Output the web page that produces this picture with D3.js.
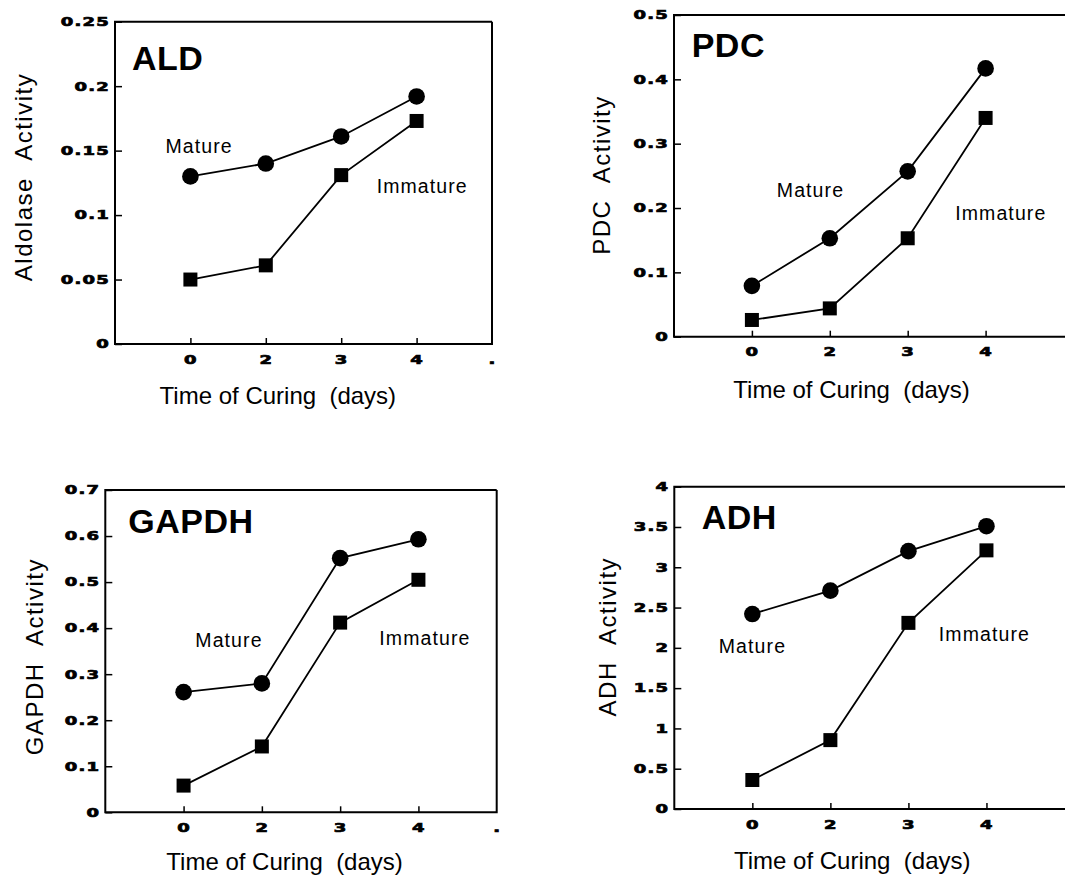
<!DOCTYPE html>
<html>
<head>
<meta charset="utf-8">
<script src="https://cdn.jsdelivr.net/npm/d3@7"></script>
<style>
  body { margin: 0; background: #fff; }
  text { fill: #000; }
</style>
</head>
<body>
<div id="chart"></div>
<script>
// ---- data ----
var days = ["0", "2", "3", "4"];
var endLabel = ".";

var aldMature   = [0.13, 0.14, 0.161, 0.192];
var aldImmature = [0.05, 0.061, 0.131, 0.173];
var aldTicks = [0, 0.05, 0.1, 0.15, 0.2, 0.25];
var aldTickLabels = ["0", "0.05", "0.1", "0.15", "0.2", "0.25"];

var pdcMature   = [0.079, 0.153, 0.257, 0.417];
var pdcImmature = [0.026, 0.044, 0.153, 0.34];
var pdcTicks = [0, 0.1, 0.2, 0.3, 0.4, 0.5];
var pdcTickLabels = ["0", "0.1", "0.2", "0.3", "0.4", "0.5"];

var gapdhMature   = [0.261, 0.28, 0.552, 0.593];
var gapdhImmature = [0.058, 0.143, 0.412, 0.505];
var gapdhTicks = [0, 0.1, 0.2, 0.3, 0.4, 0.5, 0.6, 0.7];
var gapdhTickLabels = ["0", "0.1", "0.2", "0.3", "0.4", "0.5", "0.6", "0.7"];

var adhMature   = [2.42, 2.71, 3.2, 3.51];
var adhImmature = [0.36, 0.855, 2.31, 3.21];
var adhTicks = [0, 0.5, 1, 1.5, 2, 2.5, 3, 3.5, 4];
var adhTickLabels = ["0", "0.5", "1", "1.5", "2", "2.5", "3", "3.5", "4"];

var xTitle = "Time of Curing\u00a0\u00a0(days)";

var width = 1065, height = 878;

var svg = d3.select("#chart")
            .append("svg")
            .attr("width", width)
            .attr("height", height)
            .style("display", "block");

svg.append("rect").attr("width", width).attr("height", height).attr("fill", "#fff");

// panel layout
var panels = [
  { name: "ALD", yTitle: "Aldolase\u00a0\u00a0Activity", mature: aldMature, immature: aldImmature,
    ticks: aldTicks, tickLabels: aldTickLabels,
    left: 115, right: 492, top: 21.7, bottom: 344, openRight: false,
    titleDx: 17, titleDy: 48, yTitleDx: -83, yTitleCy: 177,
    matureAt: [-0.33, 0.148], immatureAt: [2.47, 0.117], xTitleAt: 1.16, xTitleDy: 60 },
  { name: "PDC", yTitle: "PDC\u00a0\u00a0Activity", mature: pdcMature, immature: pdcImmature,
    ticks: pdcTicks, tickLabels: pdcTickLabels,
    left: 674, right: 1063.5, top: 15, bottom: 336.7, openRight: true,
    titleDx: 17.7, titleDy: 42, yTitleDx: -64, yTitleCy: 175,
    matureAt: [0.32, 0.217], immatureAt: [2.61, 0.181], xTitleAt: 1.28, xTitleDy: 61.7 },
  { name: "GAPDH", yTitle: "GAPDH\u00a0\u00a0Activity", mature: gapdhMature, immature: gapdhImmature,
    ticks: gapdhTicks, tickLabels: gapdhTickLabels,
    left: 105.3, right: 496.7, top: 490, bottom: 812.3, openRight: false,
    titleDx: 23, titleDy: 42.7, yTitleDx: -62.3, yTitleCy: 656.7,
    matureAt: [0.15, 0.36], immatureAt: [2.5, 0.364], xTitleAt: 1.29, xTitleDy: 58 },
  { name: "ADH", yTitle: "ADH\u00a0\u00a0Activity", mature: adhMature, immature: adhImmature,
    ticks: adhTicks, tickLabels: adhTickLabels,
    left: 674.3, right: 1064.5, top: 486.7, bottom: 809, openRight: true,
    titleDx: 27.4, titleDy: 42.3, yTitleDx: -58.3, yTitleCy: 636.7,
    matureAt: [-0.43, 1.93], immatureAt: [2.39, 2.09], xTitleAt: 1.28, xTitleDy: 59.7 }
];

var tickScale = 1.5; // the tick digits are very wide

function styleTickText(sel){
  sel.style("font-family", "'DejaVu Sans', sans-serif")
     .style("font-weight", "bold")
     .style("font-size", "12px")
     .style("letter-spacing", "0.8px")
     .attr("stroke", "#000")
     .attr("stroke-width", 0.7);
}

panels.forEach(function(p){

  var g = svg.append("g").attr("class", "panel-" + p.name);

  var x = d3.scaleLinear().domain([-1, 4]).range([p.left, p.right]);
  var y = d3.scaleLinear().domain([0, d3.max(p.ticks)]).range([p.bottom, p.top]);

  // frame
  var fr = p.openRight ? width + 10 : p.right;
  g.append("path")
   .attr("d", "M" + fr + "," + p.top + "H" + p.left + "V" + p.bottom + "H" + fr + (p.openRight ? "" : "V" + p.top))
   .attr("fill", "none")
   .attr("stroke", "#000")
   .attr("stroke-width", 2);

  // y axis
  var ya = g.append("g")
            .attr("transform", "translate(" + p.left + ",0)")
            .call(d3.axisLeft(y)
                    .tickValues(p.ticks)
                    .tickFormat(function(d, i){ return p.tickLabels[i]; })
                    .tickSize(-7)
                    .tickPadding(5));
  ya.select(".domain").remove();
  ya.selectAll(".tick line").attr("stroke", "#000").attr("stroke-width", 1.5);
  ya.selectAll(".tick text")
    .attr("x", -5 / tickScale)
    .attr("transform", "scale(" + tickScale + ",1)")
    .call(styleTickText);

  // x axis
  var xv = p.openRight ? [0, 1, 2, 3] : [0, 1, 2, 3, 4];
  var xa = g.append("g")
            .attr("transform", "translate(0," + p.bottom + ")")
            .call(d3.axisBottom(x)
                    .tickValues(xv)
                    .tickFormat(function(i){ return i < days.length ? days[i] : endLabel; })
                    .tickSize(-6)
                    .tickPadding(11));
  xa.select(".domain").remove();
  xa.selectAll(".tick line").attr("stroke", "#000").attr("stroke-width", 1.5)
    .filter(function(d){ return d >= days.length; }).remove();
  xa.selectAll(".tick text")
    .attr("transform", "scale(" + tickScale + ",1)")
    .call(styleTickText);

  // series lines
  var line = d3.line()
               .x(function(d, i){ return x(i); })
               .y(function(d){ return y(d); });

  [p.mature, p.immature].forEach(function(s){
    g.append("path")
     .datum(s)
     .attr("fill", "none")
     .attr("stroke", "#000")
     .attr("stroke-width", 1.8)
     .attr("d", line);
  });

  // markers
  g.selectAll(".mature-dot")
   .data(p.mature)
   .enter()
   .append("circle")
     .attr("class", "mature-dot")
     .attr("cx", function(d, i){ return x(i); })
     .attr("cy", function(d){ return y(d); })
     .attr("r", 8.3)
     .attr("fill", "#000");

  var sq = 14;
  g.selectAll(".immature-sq")
   .data(p.immature)
   .enter()
   .append("rect")
     .attr("class", "immature-sq")
     .attr("x", function(d, i){ return x(i) - sq / 2; })
     .attr("y", function(d){ return y(d) - sq / 2; })
     .attr("width", sq)
     .attr("height", sq)
     .attr("fill", "#000");

  // panel title
  g.append("text")
   .attr("x", p.left + p.titleDx)
   .attr("y", p.top + p.titleDy)
   .style("font-family", "'Liberation Sans', Arial, sans-serif")
   .style("font-weight", "bold")
   .style("font-size", "34px")
   .style("letter-spacing", "0.5px")
   .text(p.name);

  // series labels
  g.append("text")
   .attr("x", x(p.matureAt[0]))
   .attr("y", y(p.matureAt[1]))
   .style("font-family", "'Liberation Sans', Arial, sans-serif")
   .style("font-size", "19.5px")
   .style("letter-spacing", "1.1px")
   .text("Mature");

  g.append("text")
   .attr("x", x(p.immatureAt[0]))
   .attr("y", y(p.immatureAt[1]))
   .style("font-family", "'Liberation Sans', Arial, sans-serif")
   .style("font-size", "19.5px")
   .style("letter-spacing", "1.1px")
   .text("Immature");

  // axis titles
  g.append("text")
   .attr("transform", "translate(" + (p.left + p.yTitleDx) + "," + p.yTitleCy + ") rotate(-90)")
   .attr("text-anchor", "middle")
   .style("font-family", "'Liberation Sans', Arial, sans-serif")
   .style("font-size", "24px")
   .style("letter-spacing", "1.5px")
   .text(p.yTitle);

  g.append("text")
   .attr("x", x(p.xTitleAt))
   .attr("y", p.bottom + p.xTitleDy)
   .attr("text-anchor", "middle")
   .style("font-family", "'Liberation Sans', Arial, sans-serif")
   .style("font-size", "24px")
   .text(xTitle);
});
</script>
</body>
</html>
